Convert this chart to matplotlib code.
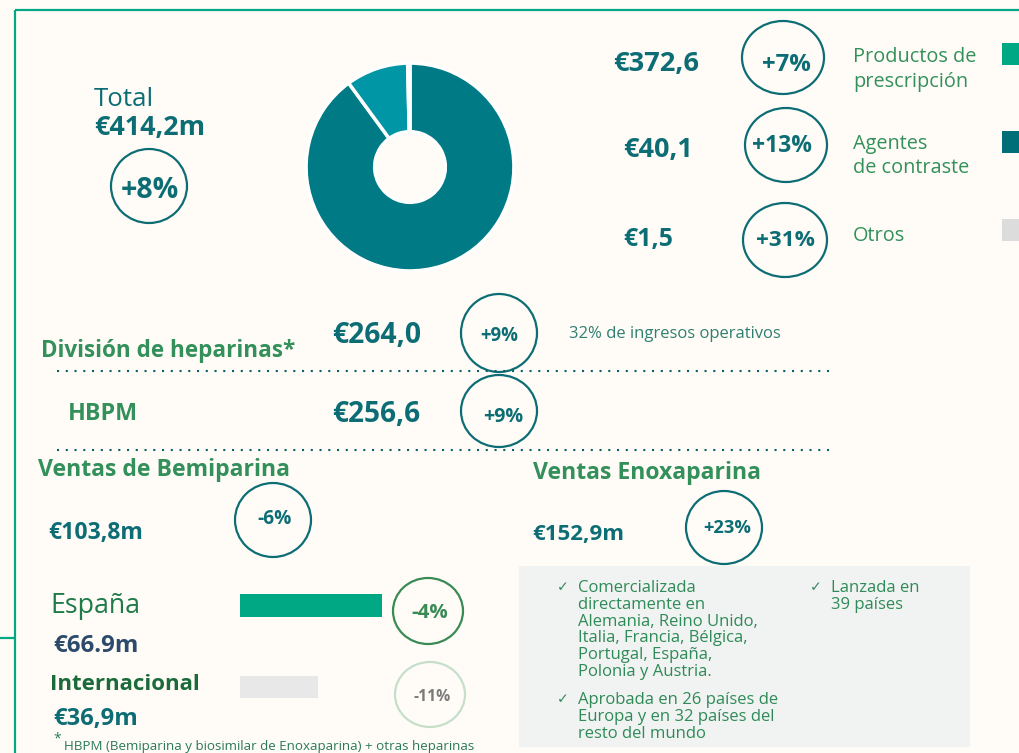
import matplotlib
matplotlib.use("Agg")
import matplotlib.pyplot as plt
from matplotlib.patches import Ellipse, Rectangle

# ---------------- data ----------------
total_label = "€414,2m"
total_growth = "+8%"
segments = ["Productos de\nprescripción", "Agentes\nde contraste", "Otros"]
segment_values = [372.6, 40.1, 1.5]
segment_value_labels = ["€372,6", "€40,1", "€1,5"]
segment_growth = ["+7%", "+13%", "+31%"]

heparin_rows = ["División de heparinas*", "HBPM"]
heparin_value_labels = ["€264,0", "€256,6"]
heparin_growth = ["+9%", "+9%"]
heparin_note = "32% de ingresos operativos"

bemi_title = "Ventas de Bemiparina"
bemi_total_label = "€103,8m"
bemi_growth = "-6%"
bemi_regions = ["España", "Internacional"]
bemi_values = [66.9, 36.9]
bemi_value_labels = ["€66.9m", "€36,9m"]
bemi_region_growth = ["-4%", "-11%"]

enox_title = "Ventas Enoxaparina"
enox_label = "€152,9m"
enox_growth = "+23%"
enox_bullets = [
    ["Comercializada", "directamente en", "Alemania, Reino Unido,",
     "Italia, Francia, Bélgica,", "Portugal, España,", "Polonia y Austria."],
    ["Aprobada en 26 países de", "Europa y en 32 países del", "resto del mundo"],
    ["Lanzada en", "39 países"],
]
footnote = "HBPM (Bemiparina y biosimilar de Enoxaparina) + otras heparinas"

# ---------------- style ----------------
BG = "#fffcf7"
TEAL = "#0d6d75"
GREEN = "#33905a"
LINE_GREEN = "#00a884"
PIE_COLORS = ["#007a85", "#0096a5", "#d9d9d9"]
LEGEND_COLORS = ["#00a884", "#006f78", "#dcdcdc"]
FONT = ["Open Sans", "DejaVu Sans"]

W, H = 1020, 753
fig = plt.figure(figsize=(W / 100, H / 100), dpi=100, facecolor=BG)
ax = fig.add_axes([0, 0, 1, 1])
ax.set_xlim(0, W)
ax.set_ylim(H, 0)
ax.axis("off")
ax.set_facecolor(BG)
renderer = fig.canvas.get_renderer()


def put(x, y, s, w=None, size=12, ha="left", va="center_baseline", **kw):
    kw.setdefault("family", FONT)
    t = ax.text(x, y, s, fontsize=size, ha=ha, va=va, **kw)
    if w:
        ext = t.get_window_extent(renderer)
        t.set_fontsize(size * w / ext.width)
    return t


def fit_size(s, w, size=12, **kw):
    kw.setdefault("family", FONT)
    t = ax.text(0, 0, s, fontsize=size, **kw)
    ext = t.get_window_extent(renderer)
    t.remove()
    return size * w / ext.width


def ring(cx, cy, rx, ry, color, lw=1.6):
    ax.add_patch(Ellipse((cx, cy), 2 * rx, 2 * ry, fill=False, ec=color, lw=lw))


# ---------------- frame lines ----------------
ax.plot([15, W], [10, 10], color=LINE_GREEN, lw=1.6, solid_capstyle="butt")
ax.plot([15, 15], [10, H], color=LINE_GREEN, lw=1.6, solid_capstyle="butt")
ax.plot([0, 15], [638, 638], color=LINE_GREEN, lw=1.6, solid_capstyle="butt")

# ---------------- total ----------------
put(94, 96, "Total", w=60, size=18, color=TEAL)
put(94, 125, total_label, w=111, size=19, color=TEAL, weight="bold")
ring(149, 186, 38, 37, TEAL)
put(150, 187, total_growth, w=58, size=19, ha="center", color=TEAL, weight="bold")

# ---------------- donut ----------------
cx, cy, r = 410, 167, 106
pax = fig.add_axes([(cx - r) / W, (H - cy - r) / H, 2 * r / W, 2 * r / H])
pax.pie(segment_values, colors=PIE_COLORS, startangle=90, counterclock=False,
        radius=1, wedgeprops=dict(width=0.66, edgecolor="white", linewidth=2.5))
pax.set_xlim(-1.02, 1.02)
pax.set_ylim(-1.02, 1.02)
pax.set_aspect("equal")
pax.axis("off")

# ---------------- segment rows ----------------
seg_rows_y = [61, 147, 236]
seg_val_w = [86, 70, 50]
seg_val_x = [613, 623, 623]
seg_circ = [(783, 57.5, 41, 36.5), (786, 145, 41, 37), (785, 240, 42, 37)]
seg_txt = [(786, 62, 49), (782, 143, 60), (786, 238, 59)]
label_size = fit_size("Productos de", 124, 14)
for i in range(3):
    put(seg_val_x[i], seg_rows_y[i], segment_value_labels[i], w=seg_val_w[i], size=18,
        color=TEAL, weight="bold")
    ex, ey, rx, ry = seg_circ[i]
    ring(ex, ey, rx, ry, TEAL)
    tx, ty, tw = seg_txt[i]
    put(tx, ty, segment_growth[i], w=tw, size=17, ha="center", color=TEAL, weight="bold")
    lines = segments[i].split("\n")
    ly = [[54, 79], [141, 165], [233]][i]
    for ln, yy in zip(lines, ly):
        put(853, yy, ln, size=label_size, color=GREEN)
for col, y0 in zip(LEGEND_COLORS, [43, 131, 219]):
    ax.add_patch(Rectangle((1002, y0), 20, 22, color=col, lw=0))

# ---------------- heparin division ----------------
put(41, 348, heparin_rows[0], w=255, size=15, color=GREEN, weight="bold")
put(332, 332, heparin_value_labels[0], w=89, size=18, color=TEAL, weight="bold")
ring(499, 333, 38, 39, TEAL)
put(499, 333, heparin_growth[0], w=38, size=12, ha="center", color=TEAL, weight="bold")
put(569, 332, heparin_note, w=213, size=11, color="#2e7f70")

ax.plot([57, 835], [371, 371], color="#0b5f6a", lw=1.5, linestyle=(0, (1, 3.2)))
put(68, 411, heparin_rows[1], w=70, size=15, color=GREEN, weight="bold")
put(332, 411, heparin_value_labels[1], w=88, size=18, color=TEAL, weight="bold")
ring(499, 411, 38, 36, TEAL)
put(503, 414, heparin_growth[1], w=40, size=12, ha="center", color=TEAL, weight="bold")
ax.plot([57, 835], [450, 450], color="#0b5f6a", lw=1.5, linestyle=(0, (1, 3.2)))

# ---------------- bemiparina ----------------
put(38, 467, bemi_title, w=252, size=16, color=GREEN, weight="bold")
put(48, 530, bemi_total_label, w=95, size=17, color=TEAL, weight="bold")
ring(273, 520, 38, 37, TEAL)
put(275, 516, bemi_growth, w=34, size=13, ha="center", color=TEAL, weight="bold")

put(50, 603, bemi_regions[0], w=90, size=18, color="#1f7a4a")
put(53, 643, bemi_value_labels[0], w=86, size=17, color="#2c4a6b", weight="bold")
put(50, 682, bemi_regions[1], w=150, size=16, color="#1b6b3a", weight="bold")
put(53, 716, bemi_value_labels[1], w=85, size=17, color=TEAL, weight="bold")

bax = fig.add_axes([240 / W, (H - 705) / H, 212 / W, 120 / H])
bax.set_xlim(0, 100)
bax.set_ylim(705, 585)
bax.axis("off")
bax.barh([605.5, 687], bemi_values, height=[23, 22], color=["#00a884", "#e8e8e8"])

ring(428, 611, 35, 33, "#3a8a55")
put(430, 611, bemi_region_growth[0], w=36, size=13, ha="center", color="#3a8a55", weight="bold")
ring(430, 694.5, 35, 32.5, "#c6dfc9")
put(432, 695, bemi_region_growth[1], w=37, size=13, ha="center", color="#7a7a7a", weight="bold")

put(53, 737, "*", size=10, color="#2a7a55")
put(64, 745, footnote, w=416, size=9, color="#2a7a55")

# ---------------- enoxaparina ----------------
put(533, 470, enox_title, w=228, size=16, color=GREEN, weight="bold")
put(532, 532, enox_label, w=92, size=17, color=TEAL, weight="bold")
ring(724, 527.5, 38, 36.5, TEAL)
put(727, 526, enox_growth, w=48, size=13, ha="center", color=TEAL, weight="bold")

ax.add_patch(Rectangle((519, 566), 451, 181, color="#f1f2f2", lw=0))
bsize = fit_size("Alemania, Reino Unido,", 181, 11)
blocks = [(578, 586, enox_bullets[0]), (578, 698, enox_bullets[1]), (831, 586, enox_bullets[2])]
for bx, by, lines in blocks:
    put(bx - 21, by, "✓", size=bsize * 0.85, color="#3a8a60", family=["DejaVu Sans"])
    for k, ln in enumerate(lines):
        put(bx, by + k * 16.8, ln, size=bsize, color="#2e8b57")

fig.savefig("out.png", dpi=100, facecolor=BG)
